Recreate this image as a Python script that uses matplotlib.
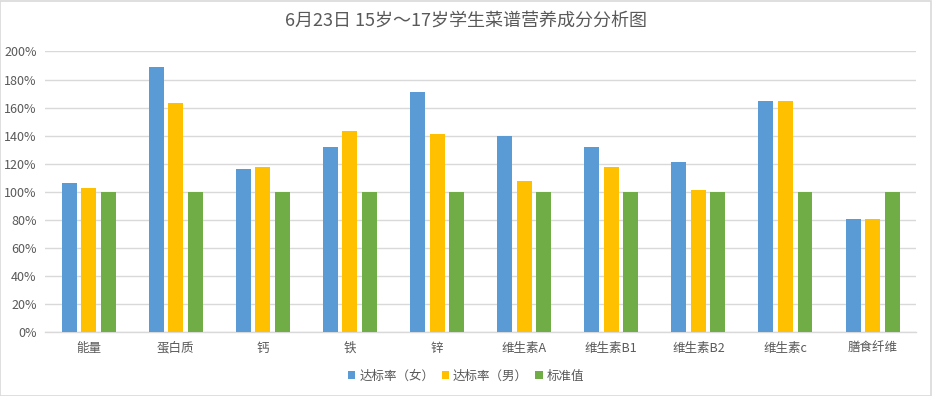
import numpy as np
import matplotlib
matplotlib.use('Agg')
from matplotlib import pyplot as plt
from matplotlib.patches import Rectangle
from matplotlib.ticker import FuncFormatter

plt.rcParams['font.family'] = ['Noto Sans CJK SC', 'DejaVu Sans']

title = '6月23日 15岁～17岁学生菜谱营养成分分析图'
categories = ['能量', '蛋白质', '钙', '铁', '锌', '维生素A', '维生素B1', '维生素B2', '维生素c', '膳食纤维']
series_names = ['达标率（女）', '达标率（男）', '标准值']
female = [1.06, 1.89, 1.16, 1.32, 1.71, 1.40, 1.32, 1.21, 1.65, 0.81]
male = [1.03, 1.63, 1.18, 1.43, 1.41, 1.08, 1.18, 1.01, 1.65, 0.81]
standard = [1.00, 1.00, 1.00, 1.00, 1.00, 1.00, 1.00, 1.00, 1.00, 1.00]
colors = ['#5B9BD5', '#FFC000', '#70AD47']
text_color = '#595959'
grid_color = '#D9D9D9'

fig = plt.figure(figsize=(9.32, 3.96), dpi=100)
ax = fig.add_axes([0.0483, 0.161, 0.9347, 0.709])

x = np.arange(len(categories))
width = 0.172
step = 0.224
for k, vals in enumerate([female, male, standard]):
    ax.bar(x + (k - 1) * step, vals, width=width, color=colors[k],
           label=series_names[k], zorder=3)

ax.set_xlim(-0.5, len(categories) - 0.5)
ax.set_ylim(0, 2.0)
ax.set_yticks(np.arange(0, 2.01, 0.2))
ax.yaxis.set_major_formatter(FuncFormatter(lambda v, p: '{:.0f}%'.format(v * 100)))
ax.set_xticks(x)
ax.set_xticklabels(categories)
ax.tick_params(axis='both', length=0, labelsize=9, colors=text_color)
ax.tick_params(axis='y', pad=6)
ax.tick_params(axis='x', pad=7)
ax.grid(axis='y', color=grid_color, linewidth=1, zorder=0)
for s in ['top', 'right', 'left']:
    ax.spines[s].set_visible(False)
ax.spines['bottom'].set_color(grid_color)
ax.spines['bottom'].set_linewidth(1)

fig.text(0.5, 0.945, title, ha='center', va='center', fontsize=13, color=text_color)

handles, labels = ax.get_legend_handles_labels()
fig.legend(handles, labels, loc='center', bbox_to_anchor=(0.5, 0.05), ncol=3,
           frameon=False, fontsize=9, labelcolor=text_color,
           handlelength=0.6, handleheight=0.6, handletextpad=0.3, columnspacing=0.6)

# light border round the chart
fig.patches.append(Rectangle((0.0005, 0.001), 0.998, 0.997, transform=fig.transFigure,
                             fill=False, edgecolor='#D9D9D9', linewidth=1.2))

plt.savefig('out.png', dpi=100)
